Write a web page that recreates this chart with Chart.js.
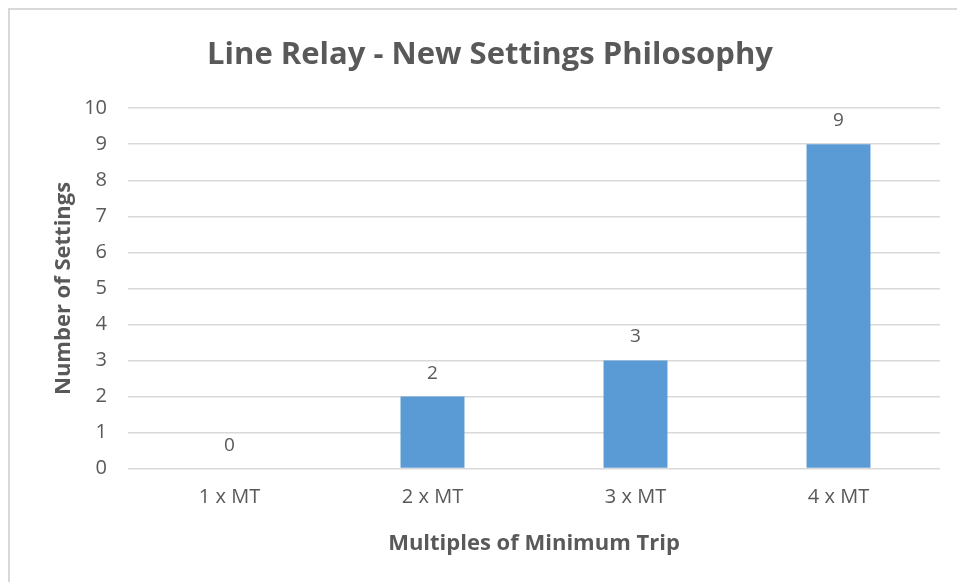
<!DOCTYPE html>
<html>
<head>
<meta charset="utf-8">
<script src="https://cdn.jsdelivr.net/npm/chart.js@4/dist/chart.umd.min.js"></script>
<style>
  html, body { margin: 0; padding: 0; background: #fff; }
  #wrap { position: absolute; left: 0; top: 0; width: 957px; height: 582px; }
  #frame { position: absolute; left: 8px; top: 8px; right: -4px; bottom: -4px; border-top: 2px solid #d9d9d9; border-left: 2px solid #d9d9d9; pointer-events: none; }
  canvas { position: absolute; left: 0; top: 0; }
</style>
</head>
<body>
<div id="wrap">
  <canvas id="c" width="957" height="582"></canvas>
  <div id="frame"></div>
</div>
<script>
const chartTitle = "Line Relay - New Settings Philosophy";
const categories = ["1 x MT", "2 x MT", "3 x MT", "4 x MT"];
const settingsCounts = [0, 2, 3, 9];
const yTitle = "Number of Settings";
const xTitle = "Multiples of Minimum Trip";

const TEXT = "#595959";
const FONT = "'Open Sans', 'Liberation Sans', sans-serif";

const dataLabels = {
  id: "dataLabels",
  afterDatasetsDraw(chart) {
    const ctx = chart.ctx;
    const meta = chart.getDatasetMeta(0);
    ctx.save();
    ctx.fillStyle = TEXT;
    ctx.font = "19px " + FONT;
    ctx.textAlign = "center";
    ctx.textBaseline = "alphabetic";
    meta.data.forEach((bar, i) => {
      ctx.fillText(String(settingsCounts[i]), bar.x, bar.y - 18);
    });
    ctx.restore();
  }
};

new Chart(document.getElementById("c"), {
  type: "bar",
  data: {
    labels: categories,
    datasets: [{
      data: settingsCounts,
      backgroundColor: "#5b9bd5",
      borderWidth: 0,
      categoryPercentage: 1.0,
      barPercentage: 0.315
    }]
  },
  options: {
    responsive: false,
    animation: false,
    devicePixelRatio: 1,
    layout: { padding: { left: 40, right: 17, top: 37, bottom: 25 } },
    plugins: {
      legend: { display: false },
      tooltip: { enabled: false },
      title: {
        display: true,
        text: chartTitle,
        color: TEXT,
        font: { family: FONT, size: 31, weight: "bold" },
        padding: { top: 0, bottom: 34 }
      }
    },
    scales: {
      x: {
        grid: { display: false, drawTicks: false },
        border: { display: false },
        ticks: { color: TEXT, font: { family: FONT, size: 20 }, padding: 17 },
        title: {
          display: true,
          text: xTitle,
          color: TEXT,
          font: { family: FONT, size: 22, weight: "bold" },
          padding: { top: 4, bottom: 0 }
        }
      },
      y: {
        min: 0,
        max: 10,
        ticks: { stepSize: 1, color: TEXT, font: { family: FONT, size: 20 }, padding: 21 },
        grid: { color: "#d9d9d9", lineWidth: 1.5, drawTicks: false },
        border: { display: false },
        title: {
          display: true,
          text: yTitle,
          color: TEXT,
          font: { family: FONT, size: 22, weight: "bold" },
          padding: { top: 11, bottom: 0 }
        },
        afterFit(scale) { scale.width = 88; }
      }
    }
  },
  plugins: [dataLabels]
});
</script>
</body>
</html>
